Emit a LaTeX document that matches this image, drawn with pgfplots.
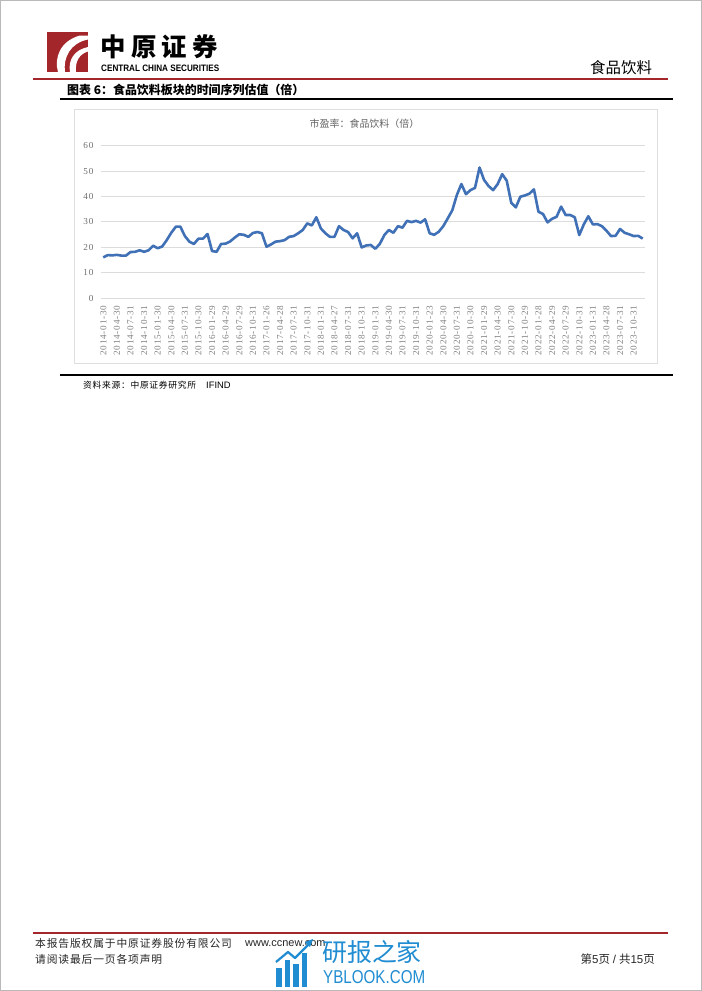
\documentclass[border=0pt]{standalone}
\usepackage{pgfplots}
\pgfplotsset{compat=1.18}
\usepackage{pgfplotstable}
\usepackage{graphicx}
\usepackage{fontspec}
\setmainfont{Liberation Serif}
\newfontfamily\tickfont[LetterSpace=9]{Liberation Serif}
\newfontfamily\cjk{Noto Sans CJK SC}
\newfontfamily\cjkw[LetterSpace=8]{Noto Sans CJK SC}
\newfontfamily\sans{Liberation Sans}
\definecolor{linec}{RGB}{64,112,182}
\definecolor{hdrred}{RGB}{163,38,42}
\definecolor{wmblue}{RGB}{32,140,210}
\definecolor{gridc}{RGB}{220,220,220}
\definecolor{ticklab}{RGB}{128,128,128}
\definecolor{titlec}{RGB}{100,100,100}
\definecolor{boxc}{RGB}{222,222,222}

\pgfplotstableread{
i v
0 16.0
1 16.9
2 16.8
3 17.0
4 16.7
5 16.7
6 18.1
7 18.2
8 18.8
9 18.2
10 18.8
11 20.6
12 19.6
13 20.3
14 22.8
15 25.7
16 28.1
17 28.1
18 24.4
19 22.2
20 21.3
21 23.4
22 23.4
23 25.2
24 18.5
25 18.2
26 21.3
27 21.4
28 22.3
29 23.8
30 25.1
31 24.9
32 24.1
33 25.6
34 26.0
35 25.5
36 20.2
37 21.1
38 22.2
39 22.4
40 22.8
41 24.1
42 24.4
43 25.5
44 26.8
45 29.4
46 28.6
47 31.8
48 27.4
49 25.5
50 24.1
51 24.1
52 28.3
53 26.8
54 26.0
55 23.5
56 25.5
57 19.9
58 20.7
59 20.9
60 19.4
61 21.3
62 24.8
63 26.8
64 25.7
65 28.3
66 27.7
67 30.4
68 29.9
69 30.4
70 29.7
71 31.0
72 25.5
73 24.9
74 26.1
75 28.3
76 31.4
77 34.6
78 40.6
79 44.9
80 40.9
81 42.5
82 43.4
83 51.4
84 46.5
85 44.1
86 42.5
87 44.9
88 48.8
89 46.2
90 37.5
91 35.7
92 39.9
93 40.4
94 41.1
95 42.8
96 34.0
97 33.1
98 29.8
99 31.2
100 32.0
101 36.0
102 32.7
103 32.7
104 31.8
105 24.8
106 29.0
107 32.2
108 29.0
109 29.1
110 28.3
111 26.5
112 24.4
113 24.5
114 27.2
115 25.7
116 25.1
117 24.4
118 24.5
119 23.4
}\petable

\begin{document}
\begin{tikzpicture}
\useasboundingbox (0bp,0bp) rectangle (702bp,-991bp);
\begin{scope}[x=1bp,y=-1bp]
\fill[white] (0,0) rectangle (702,991);
\draw[gray!55, line width=0.8bp] (0.4,0.4) rectangle (701.6,990.6);
% logo
\fill[hdrred] (47,32) rectangle (88,72);
\fill[white] (58,72) .. controls (54,58) and (60,41) .. (80,35.5) -- (88,35.5) -- (88,39.5) .. controls (70,43) and (63,58) .. (65,72) -- cycle;
\fill[white] (70,72) .. controls (68,60) and (74,50) .. (88,47) -- (88,51.5) .. controls (79,54) and (75,62) .. (76,72) -- cycle;
\node[anchor=west, inner sep=0, font=\cjk\bfseries\fontsize{25.5}{28}\selectfont] at (100,46.5) {中\hspace{5.5bp}原\hspace{5.5bp}证\hspace{5.5bp}券};
\node[anchor=west, inner sep=0] at (101,68.5) {\resizebox{118bp}{6.5bp}{\sans\bfseries CENTRAL CHINA SECURITIES}};
\node[anchor=west, inner sep=0, font=\cjk\fontsize{15.5}{17}\selectfont] at (590,68) {食品饮料};
\draw[hdrred, line width=1.5bp] (33,79) -- (668,79);
% caption
\node[anchor=west, inner sep=0, font=\cjk\bfseries\fontsize{12}{13}\selectfont] at (67,90) {图表 6：食品饮料板块的时间序列估值（倍）};
\draw[black, line width=2bp] (60,99) -- (673,99);
% chart box
\draw[boxc, line width=0.9bp] (74,109) rectangle (657,363);
\node[inner sep=0, font=\cjk\fontsize{10}{12}\selectfont, text=titlec] at (364.5,124) {市盈率：食品饮料（倍）};
% bottom rule and source
\draw[black, line width=2bp] (60,375) -- (673,375);
\node[anchor=west, inner sep=0, font=\cjkw\fontsize{8.8}{10}\selectfont] at (83,385.5) {资料来源：中原证券研究所};
\node[anchor=west, inner sep=0, font=\sans\fontsize{9.4}{10}\selectfont] at (206,385.5) {IFIND};
% footer
\draw[hdrred, line width=1.2bp] (33,933) -- (668,933);
\node[anchor=west, inner sep=0, font=\cjkw\fontsize{10.8}{12}\selectfont, text=black!85] at (35,943.5) {本报告版权属于中原证券股份有限公司};
\node[anchor=west, inner sep=0, font=\sans\fontsize{11}{12}\selectfont, text=black!85] at (245,943.5) {www.ccnew.com};
\node[anchor=west, inner sep=0, font=\cjkw\fontsize{10.8}{12}\selectfont, text=black!85] at (35,959) {请阅读最后一页各项声明};
\node[anchor=east, inner sep=0, font=\cjk\fontsize{11.5}{12}\selectfont, text=black!85] at (655,959) {第{\sans 5}页\hspace{3bp}{\sans /}\hspace{3bp}共{\sans 15}页};
% watermark
\fill[wmblue] (276,968) rectangle (281.5,987);
\fill[wmblue] (284.5,960) rectangle (290,987);
\fill[wmblue] (293,964) rectangle (298.5,987);
\fill[wmblue] (301.5,953) rectangle (307,987);
\draw[wmblue, line width=2.2bp, line join=round] (276,962) -- (288,952) -- (295,958) -- (309,944);
\fill[wmblue] (313,939) -- (305,942) -- (310,947) -- cycle;
\node[anchor=west, inner sep=0, font=\cjk\fontsize{25}{28}\selectfont, text=wmblue] at (322,952) {研报之家};
\node[anchor=west, inner sep=0, text=wmblue] at (323,977) {\resizebox{102bp}{13bp}{\sans YBLOOK.COM}};
\end{scope}
\begin{axis}[
  at={(101bp,-298bp)}, anchor=south west,
  scale only axis, width=544bp, height=152.3bp,
  xmin=-0.5, xmax=119.5, ymin=0, ymax=60,
  axis line style={draw=none},
  major tick length=0pt,
  ytick={0,10,...,60},
  xtick={0,3,...,117},
  xticklabels={2014-01-30,2014-04-30,2014-07-31,2014-10-31,2015-01-30,2015-04-30,2015-07-31,2015-10-30,2016-01-29,2016-04-29,2016-07-29,2016-10-31,2017-01-26,2017-04-28,2017-07-31,2017-10-31,2018-01-31,2018-04-27,2018-07-31,2018-10-31,2019-01-31,2019-04-30,2019-07-31,2019-10-31,2020-01-23,2020-04-30,2020-07-31,2020-10-30,2021-01-29,2021-04-30,2021-07-30,2021-10-29,2022-01-28,2022-04-29,2022-07-29,2022-10-31,2023-01-31,2023-04-28,2023-07-31,2023-10-31},
  ymajorgrids, grid style={draw=gridc, line width=0.8bp},
  /pgf/number format/assume math mode=true,
  yticklabel style={font=\tickfont\fontsize{9.2}{10}\selectfont, text=ticklab!85!black},
  yticklabel shift=4bp,
  xticklabel style={font=\tickfont\fontsize{9.2}{10}\selectfont, text=ticklab, rotate=90, anchor=east},
  xticklabel shift=4bp,
  clip=false,
]
\addplot[color=linec, line width=2.6bp, line join=round] table[x=i, y=v] {\petable};
\end{axis}
\end{tikzpicture}
\end{document}
